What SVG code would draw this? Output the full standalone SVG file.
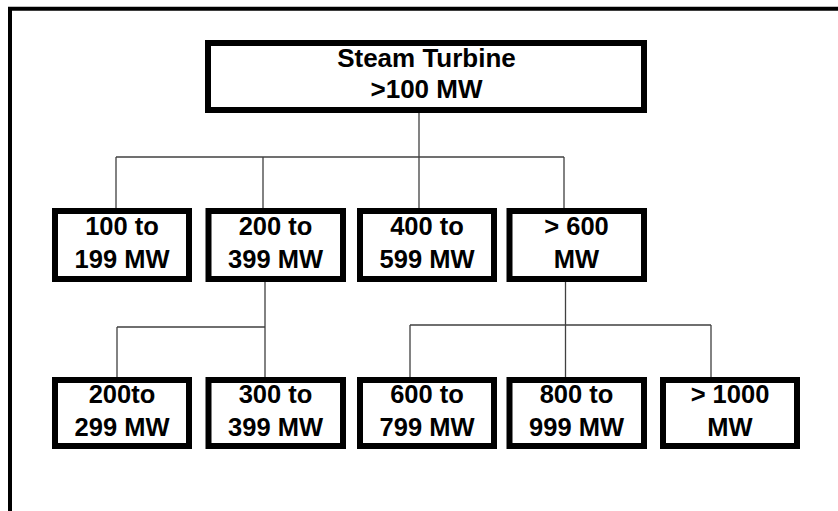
<svg xmlns="http://www.w3.org/2000/svg" width="838" height="511" viewBox="0 0 838 511">
<style>
.box{fill:#fff;stroke:#000;stroke-width:6}
.t{font-family:"Liberation Sans",Arial,sans-serif;font-weight:bold;font-size:25.5px;text-anchor:middle;fill:#000}
.c{stroke:#404040;stroke-width:1.3;fill:none}
</style>
<rect width="838" height="511" fill="#fff"/>
<path d="M10,515 V8.7 H845" fill="none" stroke="#000" stroke-width="4"/>
<g id="connectors">
<path class="c" d="M419,113 V208"/>
<path class="c" d="M116,157 H564"/>
<path class="c" d="M116,157 V208 M263,157 V208 M564,157 V208"/>
<path class="c" d="M265,282 V377 M117,327 H265 M117,327 V377"/>
<path class="c" d="M565.5,282 V377 M410,325 H711 M410,325 V377 M711,325 V377"/>
</g>
<g id="root">
<rect class="box" x="208" y="43" width="436" height="67"/>
<text class="t" x="426.5" y="67" style="font-size:26px">Steam Turbine</text>
<text class="t" x="426.5" y="98" style="font-size:26px">&gt;100 MW</text>
</g>
<g id="n100">
<rect class="box" x="55" y="211" width="134" height="68"/>
<text class="t" x="122" y="235">100 to</text>
<text class="t" x="122" y="267.5">199 MW</text>
</g>
<g id="n200">
<rect class="box" x="208.5" y="211" width="134.5" height="68"/>
<text class="t" x="275.5" y="235">200 to</text>
<text class="t" x="275.5" y="267.5">399 MW</text>
</g>
<g id="n400">
<rect class="box" x="360" y="211" width="134" height="68"/>
<text class="t" x="427" y="235">400 to</text>
<text class="t" x="427" y="267.5">599 MW</text>
</g>
<g id="n600">
<rect class="box" x="509.5" y="211" width="134.5" height="68"/>
<text class="t" x="576.5" y="235">&gt; 600</text>
<text class="t" x="576.5" y="267.5">MW</text>
</g>
<g id="n200b">
<rect class="box" x="55" y="380" width="134" height="66"/>
<text class="t" x="122" y="403">200to</text>
<text class="t" x="122" y="436">299 MW</text>
</g>
<g id="n300">
<rect class="box" x="208.5" y="380" width="134.5" height="66"/>
<text class="t" x="275.5" y="403">300 to</text>
<text class="t" x="275.5" y="436">399 MW</text>
</g>
<g id="n600b">
<rect class="box" x="360" y="380" width="134" height="66"/>
<text class="t" x="427" y="403">600 to</text>
<text class="t" x="427" y="436">799 MW</text>
</g>
<g id="n800">
<rect class="box" x="509.5" y="380" width="134.5" height="66"/>
<text class="t" x="576.5" y="403">800 to</text>
<text class="t" x="576.5" y="436">999 MW</text>
</g>
<g id="n1000">
<rect class="box" x="663" y="380" width="134" height="66"/>
<text class="t" x="730" y="403">&gt; 1000</text>
<text class="t" x="730" y="436">MW</text>
</g>
</svg>
